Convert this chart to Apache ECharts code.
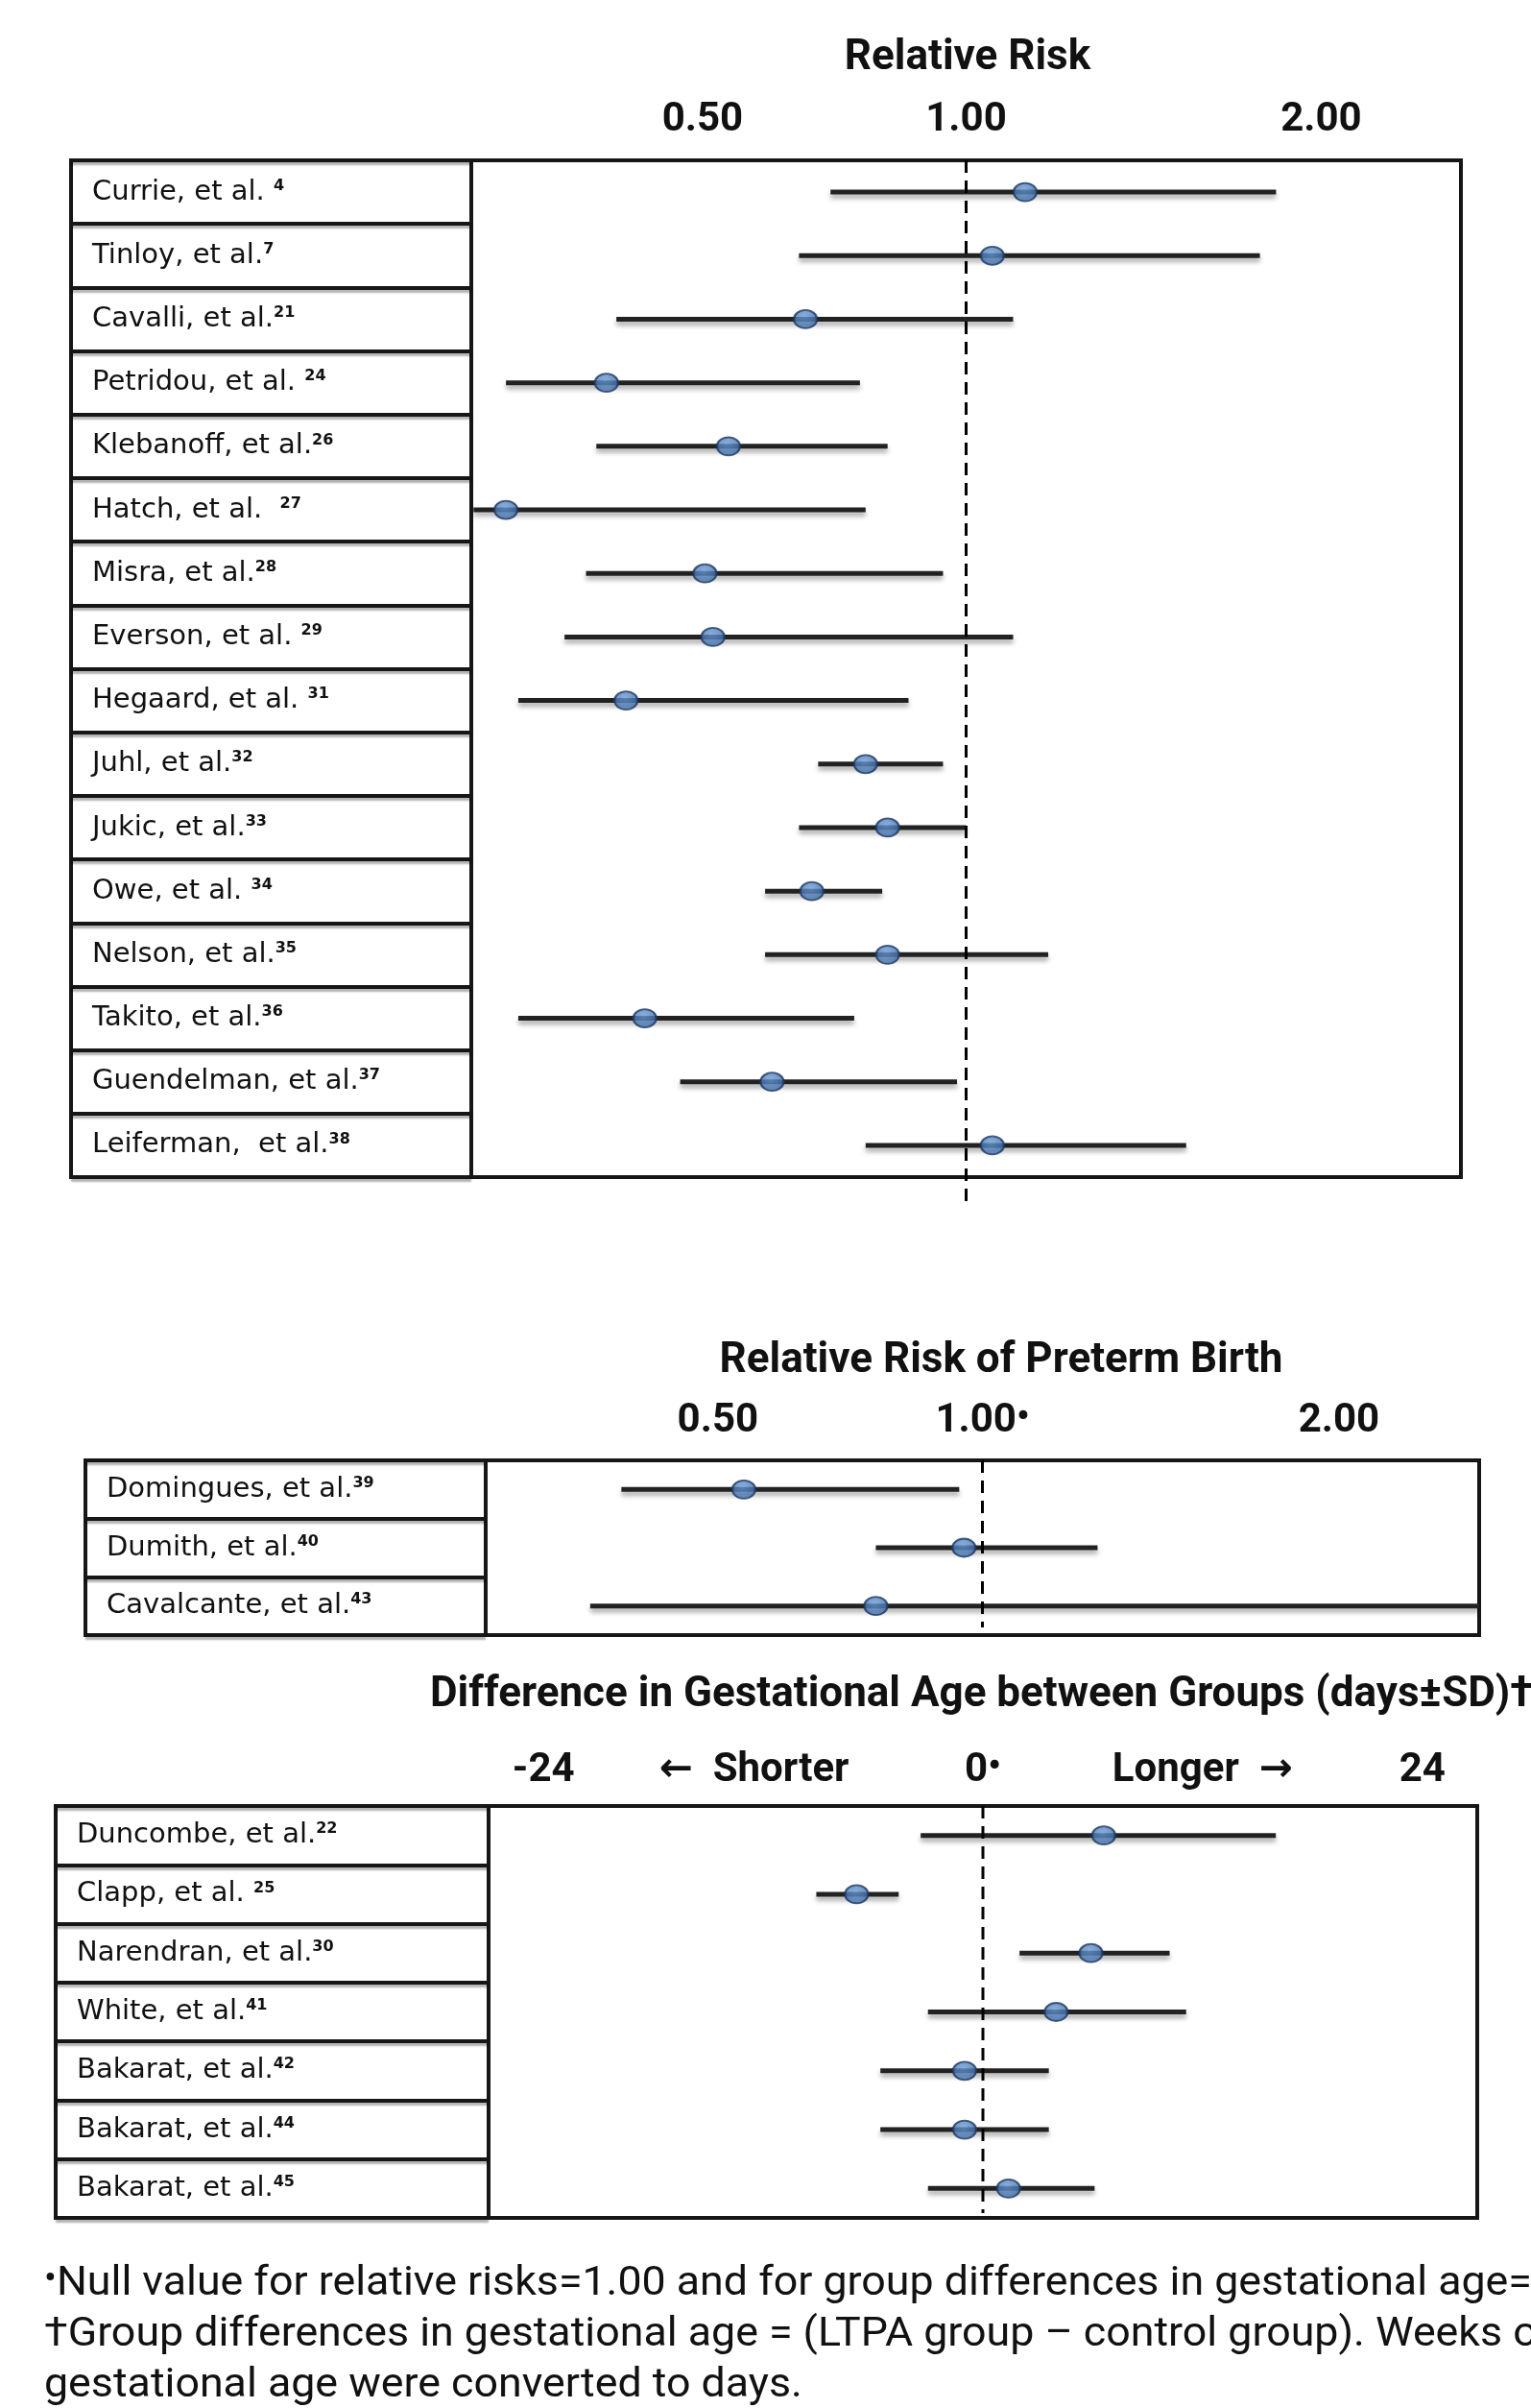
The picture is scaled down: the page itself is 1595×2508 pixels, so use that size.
<!DOCTYPE html>
<html>
<head>
<meta charset="utf-8">
<title>Physical activity and preterm birth - forest plots</title>
<script src="https://cdn.jsdelivr.net/npm/echarts@6/dist/echarts.min.js"></script>
<style>
  html, body { margin: 0; padding: 0; background: #fff; }
  #chart { width: 1595px; height: 2508px; }
</style>
</head>
<body>
<div id="chart"></div>
<script>
// ---- panel 1: relative risk ----
var rrStudies = ['Currie, et al. ', 'Tinloy, et al.', 'Cavalli, et al.', 'Petridou, et al. ', 'Klebanoff, et al.',
  'Hatch, et al.  ', 'Misra, et al.', 'Everson, et al. ', 'Hegaard, et al. ', 'Juhl, et al.', 'Jukic, et al.',
  'Owe, et al. ', 'Nelson, et al.', 'Takito, et al.', 'Guendelman, et al.', 'Leiferman,  et al.'];
var rrRefs = ['4', '7', '21', '24', '26', '27', '28', '29', '31', '32', '33', '34', '35', '36', '37', '38'];
var rrPoint = [1.14, 1.06, 0.70, 0.45, 0.59, 0.36, 0.56, 0.57, 0.47, 0.80, 0.84, 0.71, 0.84, 0.49, 0.65, 1.06];
var rrLow   = [0.74, 0.69, 0.46, 0.36, 0.44, 0.335, 0.43, 0.41, 0.37, 0.72, 0.69, 0.64, 0.64, 0.37, 0.53, 0.80];
var rrHigh  = [1.99, 1.92, 1.11, 0.79, 0.84, 0.80, 0.95, 1.11, 0.88, 0.95, 1.00, 0.83, 1.20, 0.78, 0.98, 1.63];
var rrTickValues = [0.557, 1, 2.2];
var rrTickLabels = ['0.50', '1.00', '2.00'];

// ---- panel 2: relative risk of preterm birth ----
var ptbStudies = ['Domingues, et al.', 'Dumith, et al.', 'Cavalcante, et al.'];
var ptbRefs = ['39', '40', '43'];
var ptbPoint = [0.59, 0.96, 0.79];
var ptbLow   = [0.45, 0.79, 0.42];
var ptbHigh  = [0.95, 1.29, 3.0];
var ptbTickValues = [0.557, 1, 2.2];
var ptbTickLabels = ['0.50', '1.00{d|•}', '2.00'];

// ---- panel 3: difference in gestational age (days) ----
var gaStudies = ['Duncombe, et al.', 'Clapp, et al. ', 'Narendran, et al.', 'White, et al.',
  'Bakarat, et al.', 'Bakarat, et al.', 'Bakarat, et al.'];
var gaRefs = ['22', '25', '30', '41', '42', '44', '45'];
var gaPoint = [6.6, -6.9, 5.9, 4.0, -1.0, -1.0, 1.4];
var gaLow   = [-3.4, -9.1, 2.0, -3.0, -5.6, -5.6, -3.0];
var gaHigh  = [16.0, -4.6, 10.2, 11.1, 3.6, 3.6, 6.1];
var gaTickValues = [-24, -12.5, 0, 12, 24];
var gaTickLabels = ['-24', '\u2190  Shorter', '0{d|•}', 'Longer  \u2192', '24'];

var ink = '#161616';
var labelFont = '"DejaVu Sans", sans-serif';
var headFont = 'Roboto, "DejaVu Sans", sans-serif';

// category keys have to be unique (three Bakarat rows)
function cats(names, refs) {
  return names.map(function (n, i) { return n + '^' + refs[i]; });
}

function studyLabel(v) {
  var p = v.split('^');
  return '{n|' + p[0] + '}{s|' + p[1] + '}';
}

function tickFormatter(values, labels) {
  return function (v) {
    for (var i = 0; i < values.length; i++) {
      if (Math.abs(v - values[i]) < 1e-3 * Math.max(1, Math.abs(values[i]))) return labels[i];
    }
    return '';
  };
}

function ciItem(params, api) {
  var y = api.value(2);
  var a = api.coord([api.value(0), y]);
  var b = api.coord([api.value(1), y]);
  return {
    type: 'line',
    shape: { x1: a[0], y1: a[1], x2: b[0], y2: b[1] },
    style: { stroke: '#222', lineWidth: 5, shadowBlur: 5, shadowColor: 'rgba(0,0,0,0.35)', shadowOffsetY: 4 }
  };
}

function nullLine(overhang) {
  return function (params, api) {
    var cs = params.coordSys;
    var x = api.coord([api.value(0), 0])[0];
    return {
      type: 'line',
      shape: { x1: x, y1: cs.y, x2: x, y2: cs.y + cs.height + overhang },
      style: { stroke: '#000', lineWidth: 3, lineDash: [13, 8] }
    };
  };
}

var grids = [
  { left: 74, top: 167, width: 417, height: 1059 },   // panel 1 labels
  { left: 491, top: 167, width: 1031, height: 1059 }, // panel 1 plot
  { left: 89, top: 1521, width: 417, height: 182 },   // panel 2 labels
  { left: 506, top: 1521, width: 1035, height: 182 }, // panel 2 plot
  { left: 58, top: 1881, width: 451, height: 429 },   // panel 3 labels
  { left: 509, top: 1881, width: 1030, height: 429 }  // panel 3 plot
].map(function (g) {
  g.show = true;
  g.borderColor = ink;
  g.borderWidth = 4;
  g.backgroundColor = 'transparent';
  return g;
});

function labelAxisX(gi) {
  return { gridIndex: gi, type: 'value', min: 0, max: 1, show: false };
}

function labelAxisY(gi, data) {
  return {
    gridIndex: gi, type: 'category', data: data, inverse: true,
    axisLine: { show: false }, axisTick: { show: false },
    axisLabel: {
      inside: true, margin: 22, interval: 0, align: 'left', formatter: studyLabel,
      rich: {
        n: { fontFamily: labelFont, fontSize: 29, color: '#111' },
        s: { fontFamily: labelFont, fontSize: 16, fontWeight: 'bold', color: '#111', verticalAlign: 'top' }
      }
    },
    splitLine: {
      show: true, interval: 0,
      lineStyle: { color: ink, width: 4, shadowColor: 'rgba(0,0,0,0.3)', shadowBlur: 2, shadowOffsetY: 3 }
    }
  };
}

function plotAxisY(gi, data) {
  return { gridIndex: gi, type: 'category', data: data, inverse: true, show: false };
}

function headLabels(values, labels, margin) {
  return {
    customValues: values, formatter: tickFormatter(values, labels), margin: margin,
    fontFamily: headFont, fontSize: 42, fontWeight: 'bold', color: '#111',
    rich: { d: { fontFamily: headFont, fontSize: 38, lineHeight: 26, fontWeight: 'bold', color: '#111', verticalAlign: 'top' } }
  };
}

var rrCats = cats(rrStudies, rrRefs);
var ptbCats = cats(ptbStudies, ptbRefs);
var gaCats = cats(gaStudies, gaRefs);

function pointSeries(xi, values) {
  return {
    type: 'scatter', xAxisIndex: xi, yAxisIndex: xi, z: 5,
    data: values.map(function (v, i) { return [v, i]; }),
    symbol: 'circle', symbolSize: [24, 19],
    itemStyle: {
      color: new echarts.graphic.RadialGradient(0.45, 0.35, 0.7, [
        { offset: 0, color: '#6a9ad4' }, { offset: 1, color: '#3664a0' }
      ]),
      borderColor: '#1d3760', borderWidth: 2
    }
  };
}

function ciSeries(xi, lo, hi) {
  return {
    type: 'custom', xAxisIndex: xi, yAxisIndex: xi, z: 3, clip: true,
    renderItem: ciItem,
    encode: { x: [0, 1], y: 2 },
    data: lo.map(function (v, i) { return [v, hi[i], i]; })
  };
}

function nullSeries(xi, value, overhang) {
  return {
    type: 'custom', xAxisIndex: xi, yAxisIndex: xi, z: 4, clip: false,
    renderItem: nullLine(overhang),
    encode: { x: 0, y: 1 },
    data: [[value, 0]]
  };
}

var noteStyle = { fontFamily: headFont, fontSize: 42, fill: '#111', align: 'left', verticalAlign: 'middle' };
function note(text, y, rich) {
  var st = Object.assign({ text: text }, noteStyle);
  if (rich) st.rich = rich;
  return { type: 'text', x: 46, y: y, scaleX: 1.065, style: st };
}

var chart = echarts.init(document.getElementById('chart'));
chart.setOption({
  backgroundColor: '#fff',
  animation: false,
  grid: grids,
  xAxis: [
    labelAxisX(0),
    {
      gridIndex: 1, type: 'log', logBase: 2, min: 1 / 3, max: 3, position: 'top',
      axisLine: { show: false }, axisTick: { show: false }, splitLine: { show: false },
      axisLabel: headLabels(rrTickValues, rrTickLabels, 21)
    },
    labelAxisX(2),
    {
      gridIndex: 3, type: 'log', logBase: 2, min: 1 / 3, max: 3, position: 'top',
      axisLine: { show: false }, axisTick: { show: false }, splitLine: { show: false },
      axisLabel: headLabels(ptbTickValues, ptbTickLabels, 20)
    },
    labelAxisX(4),
    {
      gridIndex: 5, type: 'value', min: -27, max: 27, position: 'top',
      axisLine: { show: false }, axisTick: { show: false }, splitLine: { show: false },
      axisLabel: headLabels(gaTickValues, gaTickLabels, 16)
    }
  ],
  yAxis: [
    labelAxisY(0, rrCats), plotAxisY(1, rrCats),
    labelAxisY(2, ptbCats), plotAxisY(3, ptbCats),
    labelAxisY(4, gaCats), plotAxisY(5, gaCats)
  ],
  series: [
    nullSeries(1, 1, 25), ciSeries(1, rrLow, rrHigh), pointSeries(1, rrPoint),
    nullSeries(3, 1, -8), ciSeries(3, ptbLow, ptbHigh), pointSeries(3, ptbPoint),
    nullSeries(5, 0, -5), ciSeries(5, gaLow, gaHigh), pointSeries(5, gaPoint)
  ],
  graphic: [
    { type: 'text', x: 1008, y: 61, style: { text: 'Relative Risk', fontFamily: headFont, fontSize: 44, fontWeight: 'bold', fill: '#111', align: 'center', verticalAlign: 'middle' } },
    { type: 'text', x: 1043, y: 1418, style: { text: 'Relative Risk of Preterm Birth', fontFamily: headFont, fontSize: 44, fontWeight: 'bold', fill: '#111', align: 'center', verticalAlign: 'middle' } },
    { type: 'text', x: 448, y: 1766, style: { text: 'Difference in Gestational Age between Groups (days\u00B1SD)\u2020', fontFamily: headFont, fontSize: 44, fontWeight: 'bold', fill: '#111', align: 'left', verticalAlign: 'middle' } },
    note('{s|•}Null value for relative risks=1.00 and for group differences in gestational age=', 2379,
      { s: { fontFamily: headFont, fontSize: 36, lineHeight: 28, fill: '#111', verticalAlign: 'top' } }),
    note('\u2020Group differences in gestational age = (LTPA group \u2013 control group). Weeks of', 2432),
    note('gestational age were converted to days.', 2485)
  ]
});
</script>
</body>
</html>
